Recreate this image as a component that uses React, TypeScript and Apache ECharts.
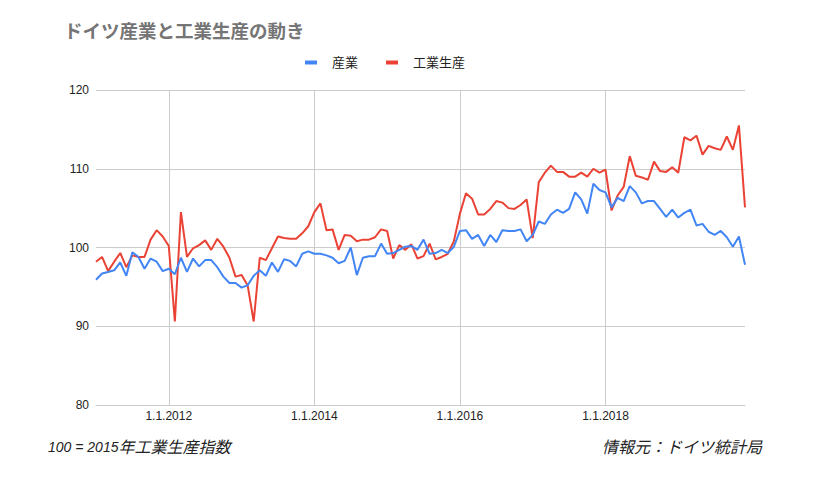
import React, { useEffect, useRef } from "react";
import * as echarts from "echarts";

// Monthly data, January 2011 – December 2019
const START_YEAR = 2011;
const MONTH_COUNT = 108;

const industry: number[] = [
  95.9, 96.7, 96.9, 97.1, 98.1, 96.4, 99.4, 98.8, 97.3, 98.6, 98.2, 97.0,
  97.3, 96.6, 98.7, 96.9, 98.6, 97.6, 98.4, 98.4, 97.5, 96.3, 95.5, 95.5,
  94.9, 95.2, 96.4, 97.1, 96.4, 98.1, 96.9, 98.5, 98.3, 97.6, 99.2, 99.5,
  99.2, 99.2, 99.0, 98.7, 98.0, 98.3, 100.0, 96.5, 98.7, 98.9, 98.9, 100.5,
  99.2, 99.3, 99.7, 100.1, 100.2, 99.7, 101.0, 99.2, 99.3, 99.7, 99.3, 100.1,
  102.1, 102.2, 101.1, 101.6, 100.2, 101.6, 100.7, 102.2, 102.1, 102.1, 102.3, 100.8,
  101.6, 103.3, 103.0, 104.2, 104.8, 104.4, 104.9, 107.0, 106.1, 104.3, 108.1, 107.3,
  107.0, 105.1, 106.3, 105.9, 107.8, 107.0, 105.6, 105.9, 105.9, 104.9, 103.9, 104.8,
  103.8, 104.4, 104.8, 102.8, 103.0, 102.0, 101.6, 102.1, 101.3, 100.1, 101.4, 97.8,
];

const production: number[] = [
  98.2, 98.8, 97.0, 98.2, 99.3, 97.5, 99.0, 98.8, 98.8, 101.0, 102.2, 101.4,
  100.2, 90.6, 104.5, 98.8, 99.9, 100.3, 100.9, 99.7, 101.1, 100.1, 98.7, 96.3,
  96.5, 95.2, 90.6, 98.7, 98.4, 99.9, 101.4, 101.2, 101.1, 101.1, 101.8, 102.7,
  104.5, 105.6, 102.2, 102.3, 99.7, 101.6, 101.5, 100.8, 101.0, 101.0, 101.3, 102.3,
  102.1, 98.6, 100.3, 99.7, 100.4, 98.6, 98.9, 100.5, 98.5, 98.8, 99.2, 100.8,
  104.3, 106.9, 106.2, 104.2, 104.2, 104.9, 105.9, 105.7, 105.0, 104.9, 105.4, 106.1,
  101.2, 108.3, 109.5, 110.4, 109.6, 109.6, 109.0, 109.0, 109.5, 109.0, 110.0, 109.5,
  109.9, 104.7, 106.6, 107.7, 111.6, 109.1, 108.9, 108.6, 110.9, 109.7, 109.6, 110.2,
  109.5, 114.0, 113.6, 114.2, 111.8, 112.9, 112.6, 112.4, 114.1, 112.4, 115.5, 105.1,
];

const seriesNames: string[] = ["産業", "工業生産"];
const seriesColors: string[] = ["#4285F4", "#EA4335"];
const yTicks: number[] = [80, 90, 100, 110, 120];

const titleText = "ドイツ産業と工業生産の動き";
const noteLeftLatin = "100 = 2015";
const noteLeftCjk = "年工業生産指数";
const noteRight = "情報元：ドイツ統計局";

const categories: string[] = [];
for (let i = 0; i < MONTH_COUNT; i++) {
  const y = START_YEAR + Math.floor(i / 12);
  const m = (i % 12) + 1;
  categories.push(`1.${m}.${y}`);
}

const FONT = '"Liberation Sans", Arial, "Noto Sans CJK JP", sans-serif';
const showTick = (idx: number) => idx % 24 === 12;

export default function App() {
  const ref = useRef<HTMLDivElement>(null);

  useEffect(() => {
    document.body.style.margin = "0";
    if (!ref.current) return;
    const chart = echarts.init(ref.current, undefined, { renderer: "svg" });
    chart.setOption({
      animation: false,
      backgroundColor: "#ffffff",
      textStyle: { fontFamily: FONT },
      title: {
        text: titleText,
        left: 64,
        top: 22,
        padding: 0,
        textStyle: {
          fontFamily: FONT,
          fontSize: 18.5,
          fontWeight: "bold",
          color: "#757575",
        },
      },
      legend: {
        left: 305,
        top: 56,
        padding: 0,
        icon: "rect",
        itemWidth: 12,
        itemHeight: 4,
        itemGap: 28,
        data: seriesNames,
        textStyle: {
          fontFamily: FONT,
          fontSize: 13,
          color: "#222222",
          padding: [0, 0, 0, 10],
        },
      },
      grid: { left: 96, right: 78, top: 90, bottom: 75, containLabel: false },
      xAxis: {
        type: "category",
        data: categories,
        boundaryGap: false,
        axisLine: { show: true, lineStyle: { color: "#cccccc", width: 1 } },
        axisTick: { show: false },
        axisLabel: {
          interval: showTick,
          color: "#222222",
          fontSize: 12,
          fontFamily: FONT,
          margin: 5,
        },
        splitLine: {
          show: true,
          interval: showTick,
          lineStyle: { color: "#cccccc", width: 1 },
        },
      },
      yAxis: {
        type: "value",
        min: yTicks[0],
        max: yTicks[yTicks.length - 1],
        interval: 10,
        axisLine: { show: false },
        axisTick: { show: false },
        axisLabel: {
          color: "#222222",
          fontSize: 12,
          fontFamily: FONT,
          margin: 7,
        },
        splitLine: { lineStyle: { color: "#cccccc", width: 1 } },
      },
      series: [
        {
          name: seriesNames[0],
          type: "line",
          data: industry,
          symbol: "none",
          color: seriesColors[0],
          lineStyle: { width: 2, color: seriesColors[0] },
          z: 3,
        },
        {
          name: seriesNames[1],
          type: "line",
          data: production,
          symbol: "none",
          color: seriesColors[1],
          lineStyle: { width: 2, color: seriesColors[1] },
          z: 2,
        },
      ],
      graphic: [
        {
          type: "text",
          left: 48,
          top: 439,
          style: {
            text: `{a|${noteLeftLatin}}{b|${noteLeftCjk}}`,
            fill: "#222222",
            rich: {
              a: { fontSize: 14, fontStyle: "italic", fontFamily: FONT, fill: "#222222" },
              b: { fontSize: 16, fontStyle: "italic", fontFamily: FONT, fill: "#222222" },
            },
          },
        },
        {
          type: "text",
          right: 61,
          top: 439,
          style: {
            text: noteRight,
            fontSize: 16,
            fontStyle: "italic",
            fontFamily: FONT,
            fill: "#222222",
          },
        },
      ],
    });
    return () => chart.dispose();
  }, []);

  return <div ref={ref} style={{ width: 823, height: 480 }} />;
}
